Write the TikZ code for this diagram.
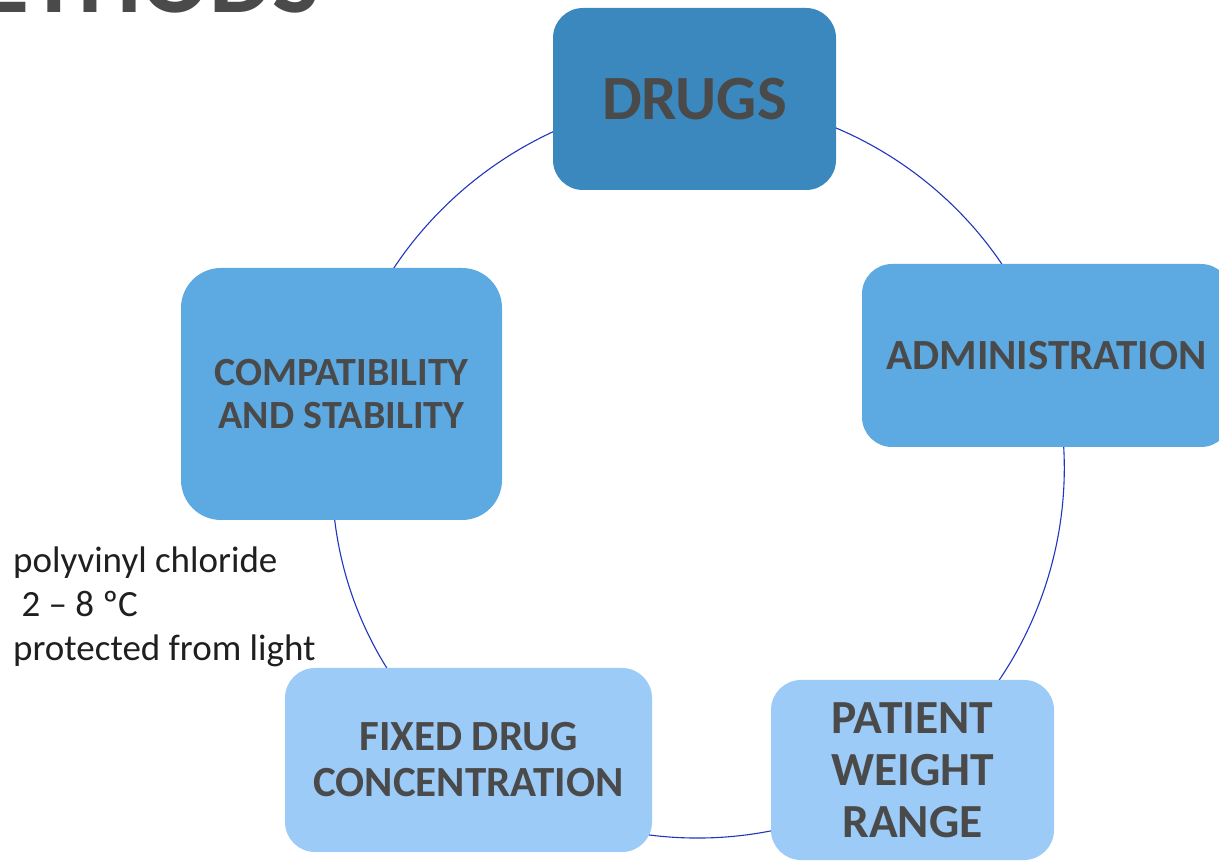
\documentclass[tikz,border=0pt]{standalone}
\usepackage{fontspec}
\setmainfont{Carlito}
\usepackage{tikz}
\usetikzlibrary{backgrounds}

\definecolor{drugblue}{HTML}{3A88BD}
\definecolor{midblue}{HTML}{5DA9E1}
\definecolor{paleblue}{HTML}{9DCBF7}
\definecolor{textgray}{HTML}{4A4A4A}
\definecolor{ringblue}{HTML}{1F35C0}

\tikzset{
  stage/.style={rectangle, rounded corners=30pt, inner sep=0pt, align=center, text=textgray},
  ring/.style={ringblue, line width=1.1pt, looseness=0.93},
}

\begin{document}
\begin{tikzpicture}[x=1pt, y=1pt]

\useasboundingbox (0,0) rectangle (1219,860);
\clip (0,0) rectangle (1219,860);

% Title, cut off at the top
\node[anchor=base east, inner sep=0pt, text=textgray, font=\fontsize{100}{120}\selectfont\bfseries] (title) at (320,847) {METHODS};

% Cycle stages
\node[stage, fill=drugblue, minimum width=283pt, minimum height=182pt, font=\fontsize{63}{70}\selectfont\bfseries] (drugs) at (694.5,761) {DRUGS};
\node[stage, fill=midblue, minimum width=369pt, minimum height=183pt, font=\fontsize{43}{48}\selectfont\bfseries] (admin) at (1046.5,504.5) {ADMINISTRATION};
\node[stage, fill=paleblue, minimum width=283pt, minimum height=180pt, font=\fontsize{47.5}{52}\selectfont\bfseries] (patient) at (912.5,90) {PATIENT\\WEIGHT\\RANGE};
\node[stage, fill=paleblue, minimum width=367pt, minimum height=184pt, font=\fontsize{43}{46}\selectfont\bfseries] (fixed) at (468.5,100) {FIXED DRUG\\CONCENTRATION};
\node[stage, fill=midblue, rounded corners=40pt, minimum width=321pt, minimum height=252pt, font=\fontsize{40}{43}\selectfont\bfseries] (compat) at (341.5,466) {COMPATIBILITY\\AND STABILITY};

% Ring
\begin{scope}[on background layer]
\draw[ring] (drugs.center) to[bend left=36] (admin.center);
\draw[ring] (admin.center) to[bend left=36] (patient.center);
\draw[ring] (patient.center) to[bend left=37] (fixed.center);
\draw[ring] (fixed.center) to[bend left=32] (compat.center);
\draw[ring] (compat.center) to[bend left=39] (drugs.center);
\end{scope}

% Storage notes
\node[anchor=north west, align=left, inner sep=0pt, text=black!88, font=\fontsize{37}{44}\selectfont] (notes) at (13,313) {polyvinyl chloride\\\ 2 – 8 ºC\\protected from light};

\end{tikzpicture}
\end{document}
